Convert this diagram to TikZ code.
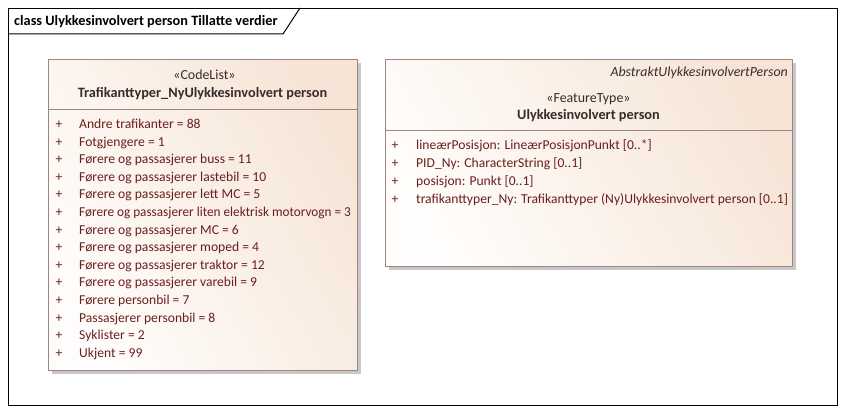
\documentclass[tikz,border=0pt]{standalone}
\usepackage{fontspec}
\setmainfont{Carlito}
\definecolor{bordc}{HTML}{A08484}
\definecolor{shadc}{HTML}{C8C8C8}
\definecolor{fillA}{HTML}{FFFDFB}
\definecolor{fillB}{HTML}{F6E5D7}
\definecolor{itemc}{HTML}{6B1E1E}
\definecolor{headc}{HTML}{3A2A2A}
\newcommand{\regfont}{\fontsize{13.6}{16}\selectfont}
\newcommand{\boldfont}{\fontsize{14.3}{17}\selectfont\bfseries}
\tikzset{
  umlbox/.style={draw=bordc, line width=0.9pt, left color=fillA, right color=fillB, shading angle=120, anchor=north west, inner sep=0pt},
  shadowbox/.style={fill=shadc, draw=none, anchor=north west, inner sep=0pt},
  sepline/.style={draw=bordc, line width=0.9pt},
  itemtxt/.style={anchor=base west, inner sep=0pt, text=itemc, font=\regfont},
  plus/.style={anchor=base, inner sep=0pt, text=itemc, font=\regfont},
  stereo/.style={anchor=base, inner sep=0pt, text=headc, font=\fontsize{13.9}{16}\selectfont},
  boxname/.style={anchor=base, inner sep=0pt, text=headc, font=\boldfont},
}
\begin{document}
\begin{tikzpicture}[x=1pt,y=-1pt]
\useasboundingbox (0,0) rectangle (845,414);
% frame
\node[draw=black, line width=1pt, anchor=north west, inner sep=0pt, minimum width=829pt, minimum height=397pt] (frame) at (8,8) {};
\coordinate (tabA) at (8,34);
\coordinate (tabB) at (283,34);
\coordinate (tabC) at (300,8);
\draw[line width=1pt] (tabA) -- (tabB) -- (tabC);
\node[anchor=base west, inner sep=0pt, font=\boldfont] (title) at (14,26) {class Ulykkesinvolvert person Tillatte verdier};

% left box
\node[shadowbox, minimum width=309pt, minimum height=311pt] (clshadow) at (52,63) {};
\node[umlbox, minimum width=309pt, minimum height=311pt] (cl) at (48,59) {};
\coordinate (clsepL) at (48,109);
\coordinate (clsepR) at (357,109);
\draw[sepline] (clsepL) -- (clsepR);
\node[stereo] (clstereo) at (204.5,79.5) {«CodeList»};
\node[boxname] (clname) at (202.5,98) {Trafikanttyper\_NyUlykkesinvolvert person};
\foreach \t [count=\i from 0] in {Andre trafikanter = 88, Fotgjengere = 1, Førere og passasjerer buss = 11, Førere og passasjerer lastebil = 10, Førere og passasjerer lett MC = 5, {\scalebox{0.972}[1]{Førere og passasjerer liten elektrisk motorvogn = 3}}, Førere og passasjerer MC = 6, Førere og passasjerer moped = 4, Førere og passasjerer traktor = 12, Førere og passasjerer varebil = 9, Førere personbil = 7, Passasjerer personbil = 8, Syklister = 2, Ukjent = 99}{
  \node[plus] (clp\i) at (59,128.5+17.6*\i) {+};
  \node[itemtxt] (cli\i) at (79,128.5+17.6*\i) {\t};
}

% right box
\node[shadowbox, minimum width=407pt, minimum height=207pt] (ftshadow) at (389,63) {};
\node[umlbox, minimum width=407pt, minimum height=207pt] (ft) at (385,59) {};
\coordinate (ftsepL) at (385,130);
\coordinate (ftsepR) at (792,130);
\draw[sepline] (ftsepL) -- (ftsepR);
\node[anchor=base east, inner sep=0pt, text=headc, font=\fontsize{13.9}{16}\selectfont\itshape] (ftsuper) at (788,76.5) {AbstraktUlykkesinvolvertPerson};
\node[stereo] (ftstereo) at (588.5,102.5) {«FeatureType»};
\node[boxname] (ftname) at (588.5,119.5) {Ulykkesinvolvert person};
\foreach \t [count=\i from 0] in {lineærPosisjon: LineærPosisjonPunkt [0..*], PID\_Ny: CharacterString [0..1], posisjon: Punkt [0..1], trafikanttyper\_Ny: Trafikanttyper (Ny)Ulykkesinvolvert person [0..1]}{
  \node[plus] (ftp\i) at (395,149.5+18*\i) {+};
  \node[itemtxt] (fti\i) at (416,149.5+18*\i) {\t};
}
\end{tikzpicture}
\end{document}
